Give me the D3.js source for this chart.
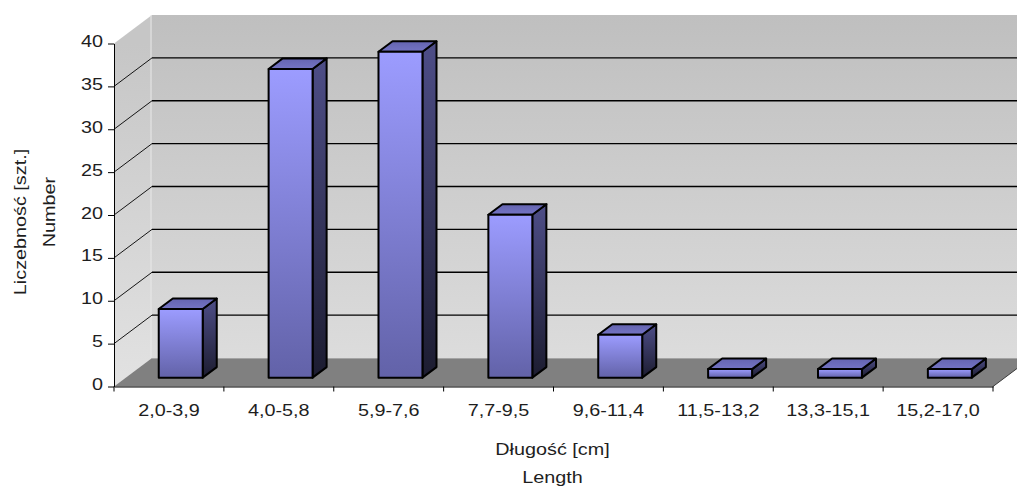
<!DOCTYPE html>
<html>
<head>
<meta charset="utf-8">
<script src="https://cdn.jsdelivr.net/npm/d3@7"></script>
<style>
  html, body { margin: 0; padding: 0; background: #fff; }
  svg { display: block; }
  text { font-family: "Liberation Sans", Arial, sans-serif; fill: #1e1e1e; }
</style>
</head>
<body>
<svg id="chart" width="1017" height="487"></svg>
<script>
// Length classes (cm) and the number of specimens in each
const categories = ["2,0-3,9", "4,0-5,8", "5,9-7,6", "7,7-9,5", "9,6-11,4", "11,5-13,2", "13,3-15,1", "15,2-17,0"];
const counts = [8, 36, 38, 19, 5, 1, 1, 1];
const yTicks = [0, 5, 10, 15, 20, 25, 30, 35, 40];
const xTitle = ["Długość [cm]", "Length"];
const yTitle = ["Liczebność [szt.]", "Number"];

const svg = d3.select("#chart");
const FS = 16.5, SX = 1.2;            // font size and horizontal glyph stretch
const DX = 38, DY = -28.5;            // depth vector of the 3D box
const F0 = 0.31, F1 = 0.68;           // bar front/back position along the depth

const x = d3.scaleBand().domain(categories).range([114, 993]).padding(0);
const y = d3.scaleLinear().domain([0, 40]).range([386.5, 43.5]);
const x0 = x.range()[0], x1 = x.range()[1];
const yMin = y(0), yMax = y(40);

const defs = svg.append("defs");
function vGrad(id, c0, c1, user, ya, yb) {
  const g = defs.append("linearGradient").attr("id", id)
    .attr("x1", 0).attr("x2", 0);
  if (user) g.attr("gradientUnits", "userSpaceOnUse").attr("y1", ya).attr("y2", yb);
  else g.attr("y1", 0).attr("y2", 1);
  g.append("stop").attr("offset", 0).attr("stop-color", c0);
  g.append("stop").attr("offset", 1).attr("stop-color", c1);
}
vGrad("wallG", "#bfbfbf", "#dcdcdc", true, yMax + DY, yMin + DY);
vGrad("sideG", "#c6c6c6", "#e2e2e2", true, yMax, yMin);
vGrad("frontG", "#9c9cff", "#6262a8", false);
vGrad("sideBarG", "#4e4e88", "#1c1c30", false);
vGrad("topG", "#6464b0", "#7474c4", false);

const line = d3.line();

// back wall
svg.append("path")
  .attr("d", line([[x0 + DX, yMin + DY], [x0 + DX, yMax + DY], [x1 + DX, yMax + DY], [x1 + DX, yMin + DY]]) + "Z")
  .attr("fill", "url(#wallG)");
// left side wall
svg.append("path")
  .attr("d", line([[x0, yMin], [x0, yMax], [x0 + DX, yMax + DY], [x0 + DX, yMin + DY]]) + "Z")
  .attr("fill", "url(#sideG)");
// wall corner highlight
svg.append("line")
  .attr("x1", x0 + DX - 1).attr("x2", x0 + DX - 1)
  .attr("y1", yMax + DY).attr("y2", yMin + DY)
  .attr("stroke", "#e6e6e6").attr("stroke-width", 1);
// floor
svg.append("path")
  .attr("d", line([[x0, yMin], [x1, yMin], [x1 + DX, yMin + DY], [x0 + DX, yMin + DY]]) + "Z")
  .attr("fill", "#808080");
svg.append("line")
  .attr("x1", x0 + DX).attr("x2", x1 + DX)
  .attr("y1", yMin + DY + 0.5).attr("y2", yMin + DY + 0.5)
  .attr("stroke", "#a4a4a4").attr("stroke-width", 1);
svg.append("line")
  .attr("x1", x1).attr("y1", yMin).attr("x2", x1 + DX).attr("y2", yMin + DY)
  .attr("stroke", "#3a3a3a").attr("stroke-width", 1);

// gridlines on side and back walls
const grid = yTicks.filter(t => t > 0 && t < 40);
const gg = svg.append("g").attr("stroke", "#000").attr("fill", "none");
grid.forEach(t => {
  gg.append("line")
    .attr("x1", x0).attr("y1", y(t)).attr("x2", x0 + DX).attr("y2", y(t) + DY)
    .attr("stroke-width", 0.9);
  gg.append("line")
    .attr("x1", x0 + DX).attr("y1", y(t) + DY).attr("x2", x1 + DX).attr("y2", y(t) + DY)
    .attr("stroke-width", 1.3);
});

// bars
const bw = x.bandwidth() * 0.4;
const bdx = (F1 - F0) * DX, bdy = (F1 - F0) * DY;
const bars = svg.append("g").attr("stroke", "#000").attr("stroke-width", 2)
  .attr("stroke-linejoin", "round");
categories.forEach((c, i) => {
  const xl = x(c) + (x.bandwidth() - bw) / 2 + F0 * DX;
  const xr = xl + bw;
  const yt = y(counts[i]) + F0 * DY;
  const yb = y(0) + F0 * DY;
  const g = bars.append("g");
  g.append("path")
    .attr("d", line([[xr, yt], [xr + bdx, yt + bdy], [xr + bdx, yb + bdy], [xr, yb]]) + "Z")
    .attr("fill", "url(#sideBarG)");
  g.append("path")
    .attr("d", line([[xl, yt], [xr, yt], [xr + bdx, yt + bdy], [xl + bdx, yt + bdy]]) + "Z")
    .attr("fill", "url(#topG)");
  g.append("rect")
    .attr("x", xl).attr("y", yt).attr("width", bw).attr("height", yb - yt)
    .attr("fill", "url(#frontG)");
});

// y axis
const yAxis = svg.append("g").attr("transform", `translate(${x0},0)`)
  .call(d3.axisLeft(y).tickValues(yTicks).tickSize(6).tickSizeOuter(0));
yAxis.select(".domain").attr("stroke", "#000");
yAxis.selectAll(".tick line").attr("stroke", "#000");
yAxis.selectAll(".tick text")
  .attr("font-size", FS).attr("font-family", null).attr("fill", null)
  .attr("x", -11 / SX).attr("y", 3).attr("dy", null)
  .attr("transform", `scale(${SX},1)`);

// x axis: line, boundary ticks and centred labels
const xAxis = svg.append("g").attr("transform", `translate(0,${yMin})`)
  .call(d3.axisBottom(x).tickSize(0).tickSizeOuter(0));
xAxis.select(".domain").attr("stroke", "#000");
xAxis.selectAll(".tick text")
  .attr("font-size", FS).attr("font-family", null).attr("fill", null)
  .attr("y", 416 - yMin).attr("dy", null)
  .attr("transform", `scale(${SX},1)`);
const bounds = categories.map(c => x(c)).concat([x1]);
xAxis.selectAll(".bt").data(bounds).join("line").attr("class", "bt")
  .attr("x1", d => d).attr("x2", d => d).attr("y1", 0).attr("y2", 5)
  .attr("stroke", "#000");

// axis titles
svg.append("text").attr("text-anchor", "middle").attr("font-size", FS)
  .attr("transform", `translate(552.5,455) scale(${SX},1)`).text(xTitle[0]);
svg.append("text").attr("text-anchor", "middle").attr("font-size", FS)
  .attr("transform", `translate(552.5,483) scale(${SX},1)`).text(xTitle[1]);
svg.append("text").attr("text-anchor", "middle").attr("font-size", FS)
  .attr("transform", `translate(26,222) rotate(-90) scale(${SX},1)`).text(yTitle[0]);
svg.append("text").attr("text-anchor", "middle").attr("font-size", FS)
  .attr("transform", `translate(55,212) rotate(-90) scale(${SX},1)`).text(yTitle[1]);
</script>
</body>
</html>
